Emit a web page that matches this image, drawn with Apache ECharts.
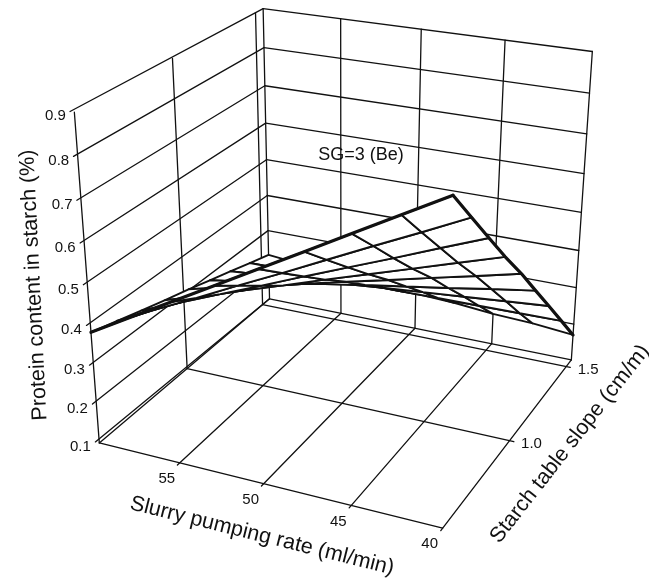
<!DOCTYPE html>
<html><head><meta charset="utf-8">
<style>html,body{margin:0;padding:0;background:#fff}#c{width:649px;height:579px}</style>
<script src="https://cdn.jsdelivr.net/npm/echarts@6/dist/echarts.min.js"></script>
</head><body><div id="c"></div>
<script>
const rateTicks = [55, 50, 45];
const rateLabels = [55, 50, 45, 40];
const slopeTicks = [1.0, 1.5];
const slopeLabels = ['1.0', '1.5'];
const proteinTicks = [0.1, 0.2, 0.3, 0.4, 0.5, 0.6, 0.7, 0.8, 0.9];
const rateNodes = [60, 57.5, 55, 52.5, 50, 47.5, 45, 42.5, 40];
const slopeNodes = [0.5, 0.63, 0.76, 0.89, 1.03, 1.16, 1.29, 1.42, 1.55];
const s050 = [.385, .444, .503, .562, .621, .68, .739, .798, .857];
const s063 = [.366, .417, .467, .518, .568, .619, .67, .72, .771];
const s076 = [.346, .388, .431, .473, .516, .558, .6, .643, .685];
const s089 = [.327, .361, .395, .429, .464, .498, .532, .566, .6];
const s103 = [.308, .334, .359, .385, .411, .436, .462, .487, .513];
const s116 = [.288, .305, .323, .34, .358, .375, .392, .41, .427];
const s129 = [.269, .278, .287, .296, .306, .315, .324, .333, .342];
const s142 = [.249, .25, .251, .252, .252, .253, .254, .255, .256];
const s155 = [.23, .22, .215, .21, .2, .195, .185, .18, .17];
const protein = [s050, s063, s076, s089, s103, s116, s129, s142, s155];
const rateTitle = 'Slurry pumping rate (ml/min)';
const slopeTitle = 'Starch table slope (cm/m)';
const proteinTitle = 'Protein content in starch (%)';
const note = 'SG=3 (Be)';

const RMAX = 60, RMIN = 40, SMIN = 0.5, SMAX = 1.55, ZMIN = 0.1, ZMAX = 0.9;
// camera: perspective view fitted to where the box corners sit
const view = [
  [60,.5,.1,100,443],[40,.5,.1,443,528],[60,1.55,.1,270,298],[40,1.55,.1,572,358],
  [60,.5,.9,74,111],[60,1.55,.9,263,9],[40,1.55,.9,592,52],[50,.5,.1,263,483],
  [60,1,.1,186,369],[60,1.5,.1,262,305],[40,1.5,.1,566,367],[40,1,.1,508,443],
  [60,.5,.4,91,327],[40,1.55,.5,582,212],[60,1.55,.5,267,160],[55,.5,.1,180,463],[45,.5,.1,352,505]
];
const norm = (r, s, z) => [(RMAX - r) / (RMAX - RMIN), (s - SMIN) / (SMAX - SMIN), (z - ZMIN) / (ZMAX - ZMIN)];
function fit() {
  const n = 11, A = Array.from({length: n}, () => new Array(n + 1).fill(0));
  const add = (row, b) => { for (let i = 0; i < n; i++) { for (let j = 0; j < n; j++) A[i][j] += row[i] * row[j]; A[i][n] += row[i] * b; } };
  view.forEach(([r, s, z, X, Y]) => {
    const [u, v, w] = norm(r, s, z);
    add([u, v, w, 1, 0, 0, 0, 0, -X * u, -X * v, -X * w], X);
    add([0, 0, 0, 0, u, v, w, 1, -Y * u, -Y * v, -Y * w], Y);
  });
  for (let c = 0; c < n; c++) {
    let p = c; for (let i = c + 1; i < n; i++) if (Math.abs(A[i][c]) > Math.abs(A[p][c])) p = i;
    [A[c], A[p]] = [A[p], A[c]];
    for (let i = 0; i < n; i++) if (i !== c) { const f = A[i][c] / A[c][c]; for (let j = c; j <= n; j++) A[i][j] -= f * A[c][j]; }
  }
  return A.map((row, i) => row[n] / row[i]);
}
const h = fit();
function project(r, s, z) {
  const [u, v, w] = norm(r, s, z), d = h[8] * u + h[9] * v + h[10] * w + 1;
  return [(h[0] * u + h[1] * v + h[2] * w + h[3]) / d, (h[4] * u + h[5] * v + h[6] * w + h[7]) / d];
}

// box lines as pairs of 3D ends
const box = [];
const seg = (a, b) => box.push([a, b]);
const tk = 0.25, tks = 0.013;
proteinTicks.forEach(z => { seg([RMAX + tk, SMIN, z], [RMAX, SMAX, z]); seg([RMAX, SMAX, z], [RMIN, SMAX, z]); });
rateTicks.forEach(r => { seg([r, SMIN - tks, ZMIN], [r, SMAX, ZMIN]); seg([r, SMAX, ZMIN], [r, SMAX, ZMAX]); });
slopeTicks.forEach(s => { seg([RMIN - tk, s, ZMIN], [RMAX, s, ZMIN]); seg([RMAX, s, ZMIN], [RMAX, s, ZMAX]); });
seg([RMAX, SMIN, ZMIN], [RMAX, SMIN, ZMAX]);
seg([RMAX, SMAX, ZMIN], [RMAX, SMAX, ZMAX]);
seg([RMIN, SMAX, ZMIN], [RMIN, SMAX, ZMAX]);
seg([RMAX, SMIN, ZMIN], [RMIN, SMIN, ZMIN]);
seg([RMIN, SMIN - tks, ZMIN], [RMIN, SMAX, ZMIN]);
seg([RMAX, SMIN, ZMIN], [RMAX, SMAX, ZMIN]);

// surface cells painted from the far corner forward
const cells = [];
for (let j = slopeNodes.length - 2; j >= 0; j--) for (let i = 0; i < rateNodes.length - 1; i++) cells.push([i, j]);

const font = px => px + 'px "Liberation Sans", Arial, sans-serif';
const ink = '#111';
const texts = [];
proteinTicks.forEach(z => { const p = project(RMAX, SMIN, z); texts.push({t: z.toFixed(1), x: p[0] - 19, y: p[1] + 4, s: 15, rot: 0}); });
rateLabels.forEach(r => { const p = project(r, SMIN, ZMIN); texts.push({t: String(r), x: p[0] - 13, y: p[1] + 16, s: 15, rot: 0}); });
slopeTicks.forEach((s, i) => { const p = project(RMIN, s, ZMIN); texts.push({t: slopeLabels[i], x: p[0] + 22, y: p[1] + 3, s: 15, rot: 0}); });
texts.push({t: note, x: 361, y: 155, s: 18, rot: 0});
texts.push({t: proteinTitle, x: 34, y: 285, s: 21.5, rot: 92.8});
texts.push({t: rateTitle, x: 262, y: 536, s: 21.5, rot: -14});
texts.push({t: slopeTitle, x: 570, y: 444, s: 21.5, rot: 52});

const chart = echarts.init(document.getElementById('c'), null, {renderer: 'canvas'});
const line3 = (api, pts, w) => ({
  type: 'polyline',
  shape: {points: pts.map(q => api.coord(project(q[0], q[1], q[2])))},
  style: {stroke: ink, lineWidth: w, fill: null, lineJoin: 'round', lineCap: 'round'},
  silent: true
});
chart.setOption({
  animation: false,
  backgroundColor: '#fff',
  grid: {left: 0, top: 0, right: 0, bottom: 0},
  xAxis: {type: 'value', min: 0, max: 649, show: false},
  yAxis: {type: 'value', min: 0, max: 579, inverse: true, show: false},
  series: [
    {
      type: 'custom', coordinateSystem: 'cartesian2d', clip: false, z: 1,
      data: box.map((b, i) => [i]),
      renderItem: (p, api) => line3(api, box[api.value(0)], 1.3)
    },
    {
      type: 'custom', coordinateSystem: 'cartesian2d', clip: false, z: 2,
      data: cells,
      renderItem: (p, api) => {
        const i = api.value(0), j = api.value(1);
        const q = [[i, j], [i + 1, j], [i + 1, j + 1], [i, j + 1]];
        return {
          type: 'polygon',
          shape: {points: q.map(([a, b]) => api.coord(project(rateNodes[a], slopeNodes[b], protein[b][a])))},
          style: {fill: '#fff', stroke: ink, lineWidth: 1.9, lineJoin: 'round'},
          silent: true
        };
      }
    },
    {
      type: 'custom', coordinateSystem: 'cartesian2d', clip: false, z: 3,
      data: [[0], [1]],
      renderItem: (p, api) => api.value(0) === 0
        ? line3(api, rateNodes.map((r, a) => [r, slopeNodes[0], protein[0][a]]), 3.2)
        : line3(api, slopeNodes.map((s, b) => [rateNodes[8], s, protein[b][8]]), 3.2)
    },
    {
      type: 'custom', coordinateSystem: 'cartesian2d', clip: false, z: 4,
      data: texts.map((t, i) => [i]),
      renderItem: (p, api) => {
        const t = texts[api.value(0)], c = api.coord([t.x, t.y]);
        return {
          type: 'text', x: c[0], y: c[1], rotation: t.rot * Math.PI / 180, silent: true,
          style: {text: t.t, font: font(t.s), fill: ink, align: 'center', verticalAlign: 'middle'}
        };
      }
    }
  ]
});
</script></body></html>
